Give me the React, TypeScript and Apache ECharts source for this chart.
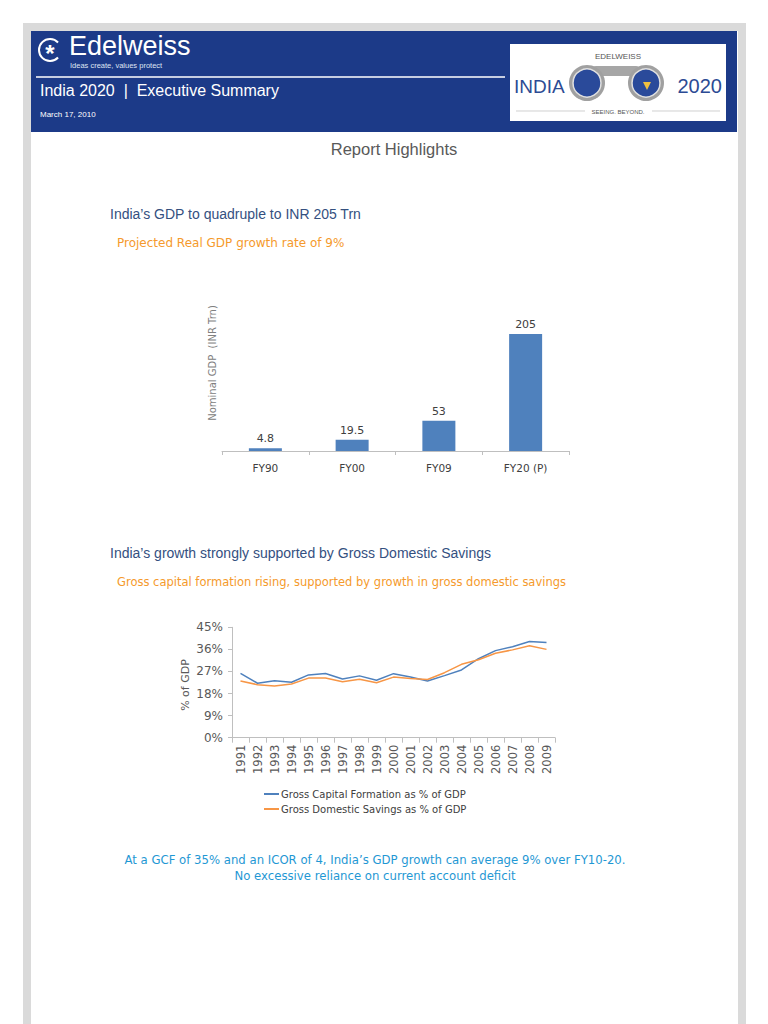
import React, { useEffect, useRef } from "react";
import * as echarts from "echarts";

const barCategories = ["FY90", "FY00", "FY09", "FY20 (P)"];
const gdpValues = [4.8, 19.5, 53, 205];

const years = ["1991","1992","1993","1994","1995","1996","1997","1998","1999","2000","2001","2002","2003","2004","2005","2006","2007","2008","2009"];
const gcfValues = [26.2, 22.2, 23.2, 22.6, 25.6, 26.2, 23.9, 25.2, 23.4, 26.1, 24.7, 23.1, 25.3, 27.6, 32.2, 35.5, 37.1, 39.2, 38.8];
const gdsValues = [23.1, 21.6, 21.1, 21.9, 24.3, 24.3, 22.8, 23.8, 22.4, 24.7, 24.1, 23.7, 26.5, 29.9, 31.8, 34.4, 35.8, 37.5, 36.0];
const pctTicks = { min: 0, max: 45, interval: 9 };

const NARROW = "'Liberation Sans Narrow', 'Liberation Sans', Arial, sans-serif";
const SANS = "'Liberation Sans', Arial, sans-serif";
const VERD = "'DejaVu Sans', Verdana, sans-serif";

export default function App() {
  const ref = useRef<HTMLDivElement>(null);
  useEffect(() => {
    if (!ref.current) return;
    const chart = echarts.init(ref.current, undefined, { renderer: "svg" });
    const txt = (x: number, y: number, text: string, size: number, color: string, font: string, align = "left", extra: any = {}) => ({
      type: "text",
      x,
      y,
      ...extra,
      style: { text, fontSize: size, fill: color, fontFamily: font, textAlign: align, textVerticalAlign: "middle", ...(extra.style || {}) },
    });
    chart.setOption({
      animation: false,
      backgroundColor: "#ffffff",
      graphic: [
        { type: "rect", shape: { x: 23, y: 23, width: 723, height: 1001 }, style: { fill: "#dadada" }, z: -10 },
        { type: "rect", shape: { x: 31, y: 31, width: 707, height: 993 }, style: { fill: "#ffffff" }, z: -9 },
        { type: "rect", shape: { x: 31, y: 31, width: 706, height: 101 }, style: { fill: "#1c3a88" }, z: -8 },
        // Edelweiss logo
        { type: "arc", shape: { cx: 50, cy: 50, r: 11, startAngle: 0.75, endAngle: -0.75, clockwise: true }, style: { stroke: "#ffffff", lineWidth: 2, fill: "none" } },
        txt(50, 53, "*", 24, "#ffffff", SANS, "center", { style: { fontWeight: "bold" } }),
        txt(69, 46, "Edelweiss", 27, "#ffffff", SANS, "left", { style: { lineHeight: 24 } }),
        txt(70, 65, "Ideas create, values protect", 7.5, "#dfe5f2", SANS, "left", { style: { lineHeight: 8 } }),
        { type: "line", shape: { x1: 36, y1: 77, x2: 505, y2: 77 }, style: { stroke: "#ffffff", lineWidth: 1.5 } },
        txt(40, 90, "India 2020  |  Executive Summary", 16, "#ffffff", SANS),
        txt(40, 114, "March 17, 2010", 8, "#ffffff", SANS),
        // India 2020 logo
        { type: "rect", shape: { x: 510, y: 44, width: 216, height: 77 }, style: { fill: "#ffffff" } },
        txt(618, 56, "EDELWEISS", 8, "#555555", SANS, "center"),
        txt(514, 86, "INDIA", 19, "#2c4b94", SANS),
        txt(722, 86, "2020", 20, "#2c4b94", SANS, "right"),
        { type: "rect", shape: { x: 592, y: 66, width: 48, height: 10, r: 4 }, style: { fill: "#a6a6a6" } },
        { type: "circle", shape: { cx: 587, cy: 83, r: 18 }, style: { fill: "#a0a0a0" } },
        { type: "circle", shape: { cx: 646, cy: 83, r: 18 }, style: { fill: "#a0a0a0" } },
        { type: "circle", shape: { cx: 587, cy: 83, r: 14 }, style: { fill: "#2a4a9a", stroke: "#e0e0e0", lineWidth: 1.5 } },
        { type: "circle", shape: { cx: 646, cy: 83, r: 14 }, style: { fill: "#2a4a9a", stroke: "#e0e0e0", lineWidth: 1.5 } },
        { type: "polygon", shape: { points: [[643, 82], [651, 82], [647, 90]] }, style: { fill: "#f0c040" } },
        { type: "line", shape: { x1: 516, y1: 111, x2: 585, y2: 111 }, style: { stroke: "#bbbbbb", lineWidth: 0.7 } },
        { type: "line", shape: { x1: 652, y1: 111, x2: 720, y2: 111 }, style: { stroke: "#bbbbbb", lineWidth: 0.7 } },
        txt(618, 112, "SEEING. BEYOND.", 6, "#555555", SANS, "center"),
        // headings
        txt(394, 149, "Report Highlights", 16.5, "#595959", NARROW, "center"),
        txt(110, 214, "India\u2019s GDP to quadruple to INR 205 Trn", 14, "#34507f", SANS),
        txt(117, 243, "Projected Real GDP growth rate of 9%", 12, "#f59a2c", VERD),
        txt(212, 363, "Nominal GDP  (INR Trn)", 10, "#808080", VERD, "center", { rotation: Math.PI / 2 }),
        txt(110, 553, "India\u2019s growth strongly supported by Gross Domestic Savings", 14, "#34507f", SANS),
        txt(117, 582, "Gross capital formation rising, supported by growth in gross domestic savings", 11.5, "#f59a2c", VERD),
        txt(185, 685, "% of GDP", 11, "#595959", VERD, "center", { rotation: Math.PI / 2 }),
        txt(375, 860, "At a GCF of 35% and an ICOR of 4, India\u2019s GDP growth can average 9% over FY10-20.", 11.7, "#1f98d4", VERD, "center"),
        txt(375, 876, "No excessive reliance on current account deficit", 11.7, "#1f98d4", VERD, "center"),
      ],
      grid: [
        { left: 222, width: 347, top: 314, height: 137 },
        { left: 232, width: 323, top: 627.3, height: 110.4 },
      ],
      xAxis: [
        {
          type: "category",
          gridIndex: 0,
          data: barCategories,
          axisLine: { lineStyle: { color: "#bfbfbf" } },
          axisTick: { show: true, length: 4, lineStyle: { color: "#bfbfbf" } },
          axisLabel: { color: "#404040", fontSize: 10.5, fontFamily: VERD, margin: 11 },
        },
        {
          type: "category",
          gridIndex: 1,
          data: years,
          boundaryGap: true,
          axisLine: { lineStyle: { color: "#bfbfbf" } },
          axisTick: { show: true, length: 5, lineStyle: { color: "#bfbfbf" } },
          axisLabel: { color: "#595959", fontSize: 11.5, fontFamily: VERD, rotate: 90, margin: 7, interval: 0 },
        },
      ],
      yAxis: [
        { type: "value", gridIndex: 0, min: 0, max: 240, show: false },
        {
          type: "value",
          gridIndex: 1,
          min: pctTicks.min,
          max: pctTicks.max,
          interval: pctTicks.interval,
          axisLine: { show: true, lineStyle: { color: "#bfbfbf" } },
          axisTick: { show: true, length: 4, lineStyle: { color: "#bfbfbf" } },
          splitLine: { show: false },
          axisLabel: { color: "#595959", fontSize: 12, fontFamily: VERD, margin: 9, formatter: "{value}%" },
        },
      ],
      legend: {
        orient: "vertical",
        left: 264,
        top: 789,
        padding: 0,
        itemGap: 5,
        itemWidth: 15,
        itemHeight: 2,
        icon: "rect",
        textStyle: { color: "#404040", fontSize: 10, fontFamily: VERD, padding: [0, 0, 0, -3] },
        data: ["Gross Capital Formation as % of GDP", "Gross Domestic Savings as % of GDP"],
      },
      series: [
        {
          type: "bar",
          xAxisIndex: 0,
          yAxisIndex: 0,
          data: gdpValues,
          barWidth: 33,
          itemStyle: { color: "#4f81bd" },
          label: { show: true, position: "top", distance: 4, color: "#404040", fontSize: 11, fontFamily: VERD },
        },
        {
          type: "line",
          name: "Gross Capital Formation as % of GDP",
          xAxisIndex: 1,
          yAxisIndex: 1,
          data: gcfValues,
          showSymbol: false,
          symbol: "none",
          itemStyle: { color: "#4f81bd" },
          lineStyle: { color: "#4f81bd", width: 1.5 },
        },
        {
          type: "line",
          name: "Gross Domestic Savings as % of GDP",
          xAxisIndex: 1,
          yAxisIndex: 1,
          data: gdsValues,
          showSymbol: false,
          symbol: "none",
          itemStyle: { color: "#f79646" },
          lineStyle: { color: "#f79646", width: 1.5 },
        },
      ],
    });
    return () => chart.dispose();
  }, []);
  return <div ref={ref} style={{ position: "absolute", left: 0, top: 0, width: 768, height: 1024 }} />;
}
